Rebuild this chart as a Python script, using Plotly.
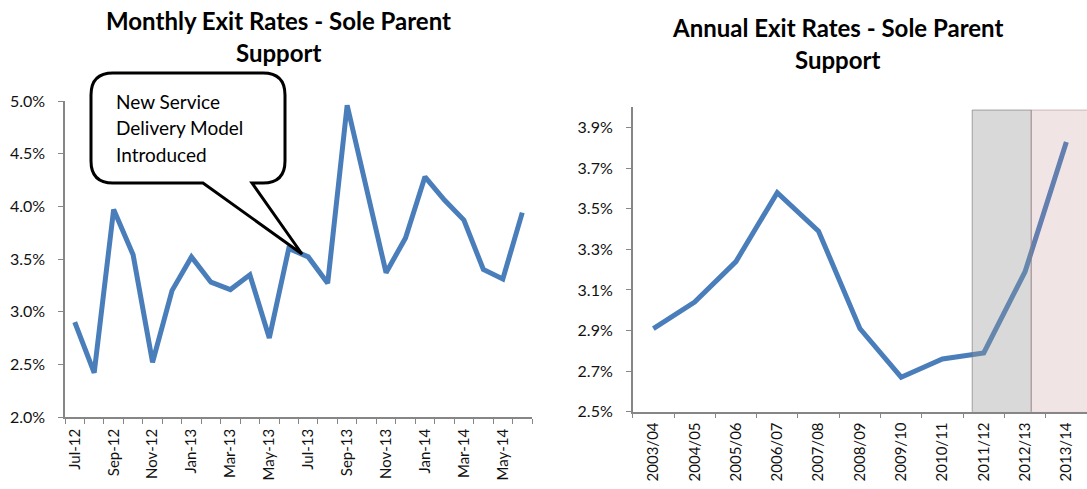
import plotly.graph_objects as go

W, H = 1087, 489

months = ["Jul-12", "Aug-12", "Sep-12", "Oct-12", "Nov-12", "Dec-12",
          "Jan-13", "Feb-13", "Mar-13", "Apr-13", "May-13", "Jun-13",
          "Jul-13", "Aug-13", "Sep-13", "Oct-13", "Nov-13", "Dec-13",
          "Jan-14", "Feb-14", "Mar-14", "Apr-14", "May-14", "Jun-14"]
monthly_rates = [0.0290, 0.0242, 0.0397, 0.0354, 0.0252, 0.0320,
                 0.0352, 0.0328, 0.0321, 0.0335, 0.0275, 0.0360,
                 0.0352, 0.0327, 0.0496, 0.0416, 0.0337, 0.0370,
                 0.0428, 0.0406, 0.0387, 0.0340, 0.0331, 0.0394]

years = ["2003/04", "2004/05", "2005/06", "2006/07", "2007/08", "2008/09",
         "2009/10", "2010/11", "2011/12", "2012/13", "2013/14"]
annual_rates = [0.0291, 0.0304, 0.0324, 0.0358, 0.0339, 0.0291,
                0.0267, 0.0276, 0.0279, 0.0319, 0.0383]

callout_lines = ["New Service", "Delivery Model", "Introduced"]

FONT = "Lato"
BLUE = "#4a7ebb"
AXIS = "#868686"


def px(x):
    return x / W


def py(y):
    return 1 - y / H


fig = go.Figure()
fig.add_trace(go.Scatter(x=list(range(len(months))), y=monthly_rates, mode="lines",
                         line=dict(color=BLUE, width=5), xaxis="x", yaxis="y",
                         showlegend=False, hoverinfo="skip"))
fig.add_trace(go.Scatter(x=list(range(len(years))), y=annual_rates, mode="lines",
                         line=dict(color=BLUE, width=5), xaxis="x2", yaxis="y2",
                         showlegend=False, hoverinfo="skip"))

xtickfont = dict(family=FONT, size=15, color="#111111")
ytickfont = dict(family=FONT, size=16, color="#111111")

fig.update_layout(
    template="none",
    width=W, height=H,
    margin=dict(l=0, r=0, t=0, b=0, pad=0),
    paper_bgcolor="white", plot_bgcolor="white",
    font=dict(family=FONT),
    xaxis=dict(domain=[px(65), px(532)], range=[-0.5, len(months) - 0.5],
               tickmode="array", tickvals=list(range(0, len(months), 2)),
               ticktext=months[::2], tickangle=-90, ticks="", tickfont=xtickfont,
               ticklabelstandoff=4,
               showgrid=False, zeroline=False, showline=True, linecolor=AXIS, linewidth=1.5,
               minor=dict(ticks="outside", tick0=-0.5, dtick=1, ticklen=5,
                          tickcolor=AXIS, showgrid=False),
               automargin=False, anchor="y", fixedrange=True),
    yaxis=dict(domain=[py(417), py(101)], range=[0.02, 0.05], tick0=0.02, dtick=0.005,
               tickformat=".1%", ticks="outside", ticklen=5, tickcolor=AXIS,
               tickfont=ytickfont, ticklabelstandoff=10, showgrid=False, zeroline=False,
               showline=True, linecolor=AXIS, linewidth=1.5, automargin=False,
               anchor="x", fixedrange=True),
    xaxis2=dict(domain=[px(632.7), 1.0], range=[-0.5, len(years) - 0.5],
                tickmode="array", tickvals=list(range(len(years))), ticktext=years,
                tickangle=-90, ticks="", tickfont=xtickfont, ticklabelstandoff=3,
                showgrid=False, zeroline=False, showline=True, linecolor=AXIS, linewidth=1.5,
                minor=dict(ticks="outside", tick0=-0.5, dtick=1, ticklen=5,
                           tickcolor=AXIS, showgrid=False),
                automargin=False, anchor="y2", fixedrange=True),
    yaxis2=dict(domain=[py(411.7), py(107.4)], range=[0.025, 0.04], tick0=0.025, dtick=0.002,
                tickformat=".1%", ticks="outside", ticklen=5, tickcolor=AXIS,
                tickfont=ytickfont, ticklabelstandoff=10, showgrid=False, zeroline=False,
                showline=True, linecolor=AXIS, linewidth=1.5, automargin=False,
                anchor="x2", fixedrange=True),
)

# shaded periods on annual chart
fig.add_shape(type="rect", xref="x2", yref="y2", x0=7.72, x1=9.15, y0=0.02497, y1=0.03987,
              fillcolor="rgba(150,150,150,0.36)", line=dict(color="rgba(110,110,110,0.6)", width=1),
              layer="above")
fig.add_shape(type="rect", xref="x2", yref="y2", x0=9.15, x1=10.6, y0=0.02497, y1=0.03987,
              fillcolor="rgba(190,130,135,0.22)", line=dict(color="rgba(170,130,135,0.5)", width=1),
              layer="above")

# callout bubble
L, T, R, B, r = 91, 73, 285, 183, 22
tail_a, tail_b, tip = (203, B), (252, B), (302, 254)
pts = [("M", L + r, T), ("L", R - r, T), ("Q", R, T, R, T + r), ("L", R, B - r),
       ("Q", R, B, R - r, B), ("L", tail_b[0], B), ("L", tip[0], tip[1]),
       ("L", tail_a[0], B), ("L", L + r, B), ("Q", L, B, L, B - r), ("L", L, T + r),
       ("Q", L, T, L + r, T)]
path = ""
for p in pts:
    if p[0] == "Q":
        path += f"Q{px(p[1])},{py(p[2])} {px(p[3])},{py(p[4])} "
    else:
        path += f"{p[0]}{px(p[1])},{py(p[2])} "
path += "Z"
fig.add_shape(type="path", xref="paper", yref="paper", path=path,
              fillcolor="white", line=dict(color="black", width=3), layer="above")

for txt, yy in zip(callout_lines, [101, 128, 154]):
    fig.add_annotation(xref="paper", yref="paper", x=px(114), y=py(yy), text=txt,
                       showarrow=False, xanchor="left", yanchor="middle",
                       font=dict(family=FONT, size=19, color="black"))

# titles
for txt, xx, yy in [("Monthly Exit Rates - Sole Parent", 278, 21), ("Support", 278, 52),
                    ("Annual Exit Rates - Sole Parent", 837, 28), ("Support", 837, 59)]:
    fig.add_annotation(xref="paper", yref="paper", x=px(xx), y=py(yy), text=f"<b>{txt}</b>",
                       showarrow=False, xanchor="center", yanchor="middle",
                       font=dict(family=FONT, size=24, color="black"))

fig.write_html("out.html", config={"displayModeBar": False},
               post_script="document.body.style.margin='0';document.body.style.overflow='hidden';")
